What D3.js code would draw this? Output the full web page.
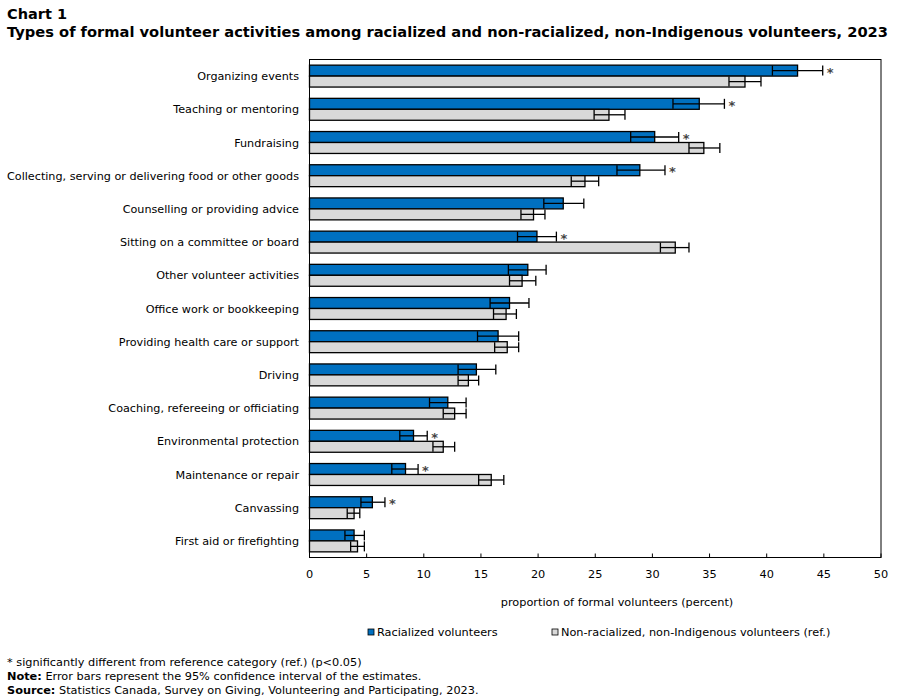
<!DOCTYPE html>
<html><head><meta charset="utf-8">
<script src="https://cdn.jsdelivr.net/npm/d3@7"></script>
<style>body{margin:0;background:#fff}svg{display:block;font-family:"DejaVu Sans",Verdana,sans-serif}</style>
</head><body><svg id="c" width="900" height="700"></svg>
<script>
const categories = ["Organizing events","Teaching or mentoring","Fundraising","Collecting, serving or delivering food or other goods","Counselling or providing advice","Sitting on a committee or board","Other volunteer activities","Office work or bookkeeping","Providing health care or support","Driving","Coaching, refereeing or officiating","Environmental protection","Maintenance or repair","Canvassing","First aid or firefighting"];
const racialized    = [42.7,34.1,30.2,28.9,22.2,19.9,19.1,17.5,16.5,14.6,12.1,9.1,8.4,5.5,3.9];
const racializedLo  = [40.5,31.8,28.1,26.9,20.5,18.2,17.4,15.8,14.7,13.0,10.5,7.9,7.2,4.5,3.1];
const racializedHi  = [44.9,36.3,32.3,31.1,24.0,21.6,20.7,19.2,18.3,16.3,13.7,10.3,9.5,6.6,4.8];
const nonRacialized   = [38.1,26.2,34.5,24.1,19.6,32.0,18.6,17.2,17.3,13.9,12.7,11.7,15.9,3.9,4.2];
const nonRacializedLo = [36.7,24.9,33.2,22.9,18.5,30.7,17.5,16.1,16.2,13.0,11.7,10.8,14.8,3.3,3.6];
const nonRacializedHi = [39.5,27.6,35.9,25.3,20.6,33.2,19.8,18.1,18.3,14.8,13.7,12.7,17.0,4.4,4.8];
const significant = [true,true,true,true,false,true,false,false,false,false,false,true,true,true,false];
const xTicks = [0,5,10,15,20,25,30,35,40,45,50];
const seriesNames = ["Racialized volunteers","Non-racialized, non-Indigenous volunteers (ref.)"];

const svg = d3.select("#c");
const L = 309.5, R = 881, T = 59.5, B = 557.5;
const x = d3.scaleLinear().domain([0,50]).range([L,R]);
const y = d3.scaleBand().domain(categories).range([T,B]).paddingInner(0.34).paddingOuter(0.17);
const sub = d3.scaleBand().domain([0,1]).range([0,y.bandwidth()]);
const colors = ["#0070C0","#D9D9D9"];

// Title
svg.append("text").attr("x",7).attr("y",19).attr("font-weight","bold").attr("font-size",14.5).text("Chart 1");
svg.append("text").attr("x",7).attr("y",37).attr("font-weight","bold").attr("font-size",14)
  .attr("textLength",881).attr("lengthAdjust","spacingAndGlyphs")
  .text("Types of formal volunteer activities among racialized and non-racialized, non-Indigenous volunteers, 2023");

// frame
svg.append("rect").attr("x",L).attr("y",T).attr("width",R-L).attr("height",B-T).attr("fill","none").attr("stroke","#000").attr("stroke-width",1);

const series = [
  {v:racialized, lo:racializedLo, hi:racializedHi},
  {v:nonRacialized, lo:nonRacializedLo, hi:nonRacializedHi}
];
series.forEach((s,si)=>{
  const g = svg.append("g");
  g.selectAll("rect").data(categories).join("rect")
    .attr("x",x(0)).attr("y",(d)=>y(d)+sub(si))
    .attr("width",(d,i)=>x(s.v[i])-x(0)).attr("height",sub.bandwidth())
    .attr("fill",colors[si]).attr("stroke","#000").attr("stroke-width",1.3);
  const eg = svg.append("g").attr("stroke","#000").attr("stroke-width",1.3);
  categories.forEach((c,i)=>{
    const cy = y(c)+sub(si)+sub.bandwidth()/2;
    eg.append("line").attr("x1",x(s.lo[i])).attr("x2",x(s.hi[i])).attr("y1",cy).attr("y2",cy);
    eg.append("line").attr("x1",x(s.lo[i])).attr("x2",x(s.lo[i])).attr("y1",cy-5).attr("y2",cy+5);
    eg.append("line").attr("x1",x(s.hi[i])).attr("x2",x(s.hi[i])).attr("y1",cy-5).attr("y2",cy+5);
  });
});
// stars
categories.forEach((c,i)=>{
  if(!significant[i]) return;
  svg.append("text").attr("x",x(racializedHi[i])+4).attr("y",y(c)+sub(0)+sub.bandwidth()/2+6)
    .attr("font-size",13).attr("font-weight","bold").attr("fill","#444").text("*");
});

// category labels
svg.append("g").selectAll("text").data(categories).join("text")
  .attr("x",299).attr("y",d=>y(d)+y.bandwidth()/2+4).attr("text-anchor","end")
  .attr("font-size",11.2).attr("fill","#000").text(d=>d);

// x axis ticks (inward)
const ax = svg.append("g");
ax.selectAll("line").data(xTicks).join("line")
  .attr("x1",d=>x(d)).attr("x2",d=>x(d)).attr("y1",B).attr("y2",B-4).attr("stroke","#000");
ax.selectAll("text").data(xTicks).join("text")
  .attr("x",d=>x(d)).attr("y",B+20).attr("text-anchor","middle").attr("font-size",11.3).text(d=>d);

svg.append("text").attr("x",617).attr("y",606).attr("text-anchor","middle").attr("font-size",11.3)
  .text("proportion of formal volunteers (percent)");

// legend
const leg = [{x:368,t:seriesNames[0],c:colors[0]},{x:552,t:seriesNames[1],c:colors[1]}];
leg.forEach(l=>{
  svg.append("rect").attr("x",l.x).attr("y",629).attr("width",6).attr("height",6).attr("fill",l.c).attr("stroke","#000").attr("stroke-width",0.8);
  svg.append("text").attr("x",l.x+9).attr("y",636).attr("font-size",11.3).text(l.t);
});

// footnotes
const fn = svg.append("g").attr("font-size",11.3);
fn.append("text").attr("x",7).attr("y",666).text("* significantly different from reference category (ref.) (p<0.05)");
const n = fn.append("text").attr("x",7).attr("y",680);
n.append("tspan").attr("font-weight","bold").text("Note:");
n.append("tspan").text(" Error bars represent the 95% confidence interval of the estimates.");
const s = fn.append("text").attr("x",7).attr("y",694);
s.append("tspan").attr("font-weight","bold").text("Source:");
s.append("tspan").text(" Statistics Canada, Survey on Giving, Volunteering and Participating, 2023.");
</script></body></html>
